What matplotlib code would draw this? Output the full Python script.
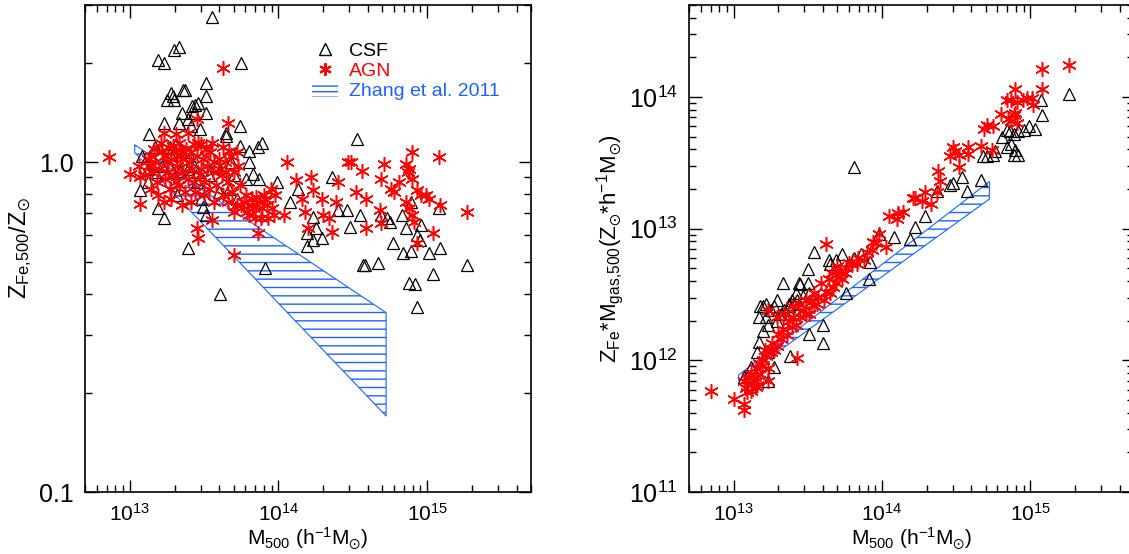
import matplotlib
matplotlib.use("Agg")
import matplotlib.pyplot as plt
import numpy as np
from matplotlib.lines import Line2D
from matplotlib.patches import Patch
from matplotlib import ticker

plt.rcParams["font.family"] = ["Liberation Sans", "DejaVu Sans"]
plt.rcParams["mathtext.fontset"] = "custom"
plt.rcParams["mathtext.rm"] = "Liberation Sans"
plt.rcParams["mathtext.it"] = "Liberation Sans:italic"
plt.rcParams["mathtext.bf"] = "Liberation Sans:bold"
plt.rcParams["mathtext.fallback"] = "stixsans"
plt.rcParams["hatch.linewidth"] = 1.0

BLUE = "#1f63ff"
RED = "#ff0000"
STAR = (6, 2, 0)  # IDL-like asterisk

# ---- left panel: Z_Fe,500 / Z_sun  (log10 M500, log10 Z) ----
csf_fe_pts = [
    (13.55, 0.44), (13.33, 0.35), (13.30, 0.34), (13.19, 0.31), (13.23, 0.30), (13.75, 0.30),
    (13.51, 0.24), (13.37, 0.22), (13.36, 0.22), (13.28, 0.21), (13.29, 0.20), (13.51, 0.20),
    (13.25, 0.19), (13.30, 0.19), (13.46, 0.18), (13.42, 0.17), (13.44, 0.175), (13.35, 0.15),
    (13.43, 0.15), (13.51, 0.15), (13.39, 0.13), (13.33, 0.12), (13.23, 0.12), (13.41, 0.11),
    (13.47, 0.10), (13.74, 0.11), (13.13, 0.085), (13.65, 0.09), (13.65, 0.08), (14.53, 0.07),
    (13.89, 0.06), (13.86, 0.045), (13.74, 0.05), (13.31, 0.055), (13.27, 0.045), (13.17, 0.045),
    (13.39, 0.03), (13.80, 0.035), (13.58, 0.005), (13.80, 0.0), (13.83, -0.035), (13.87, -0.05),
    (13.99, -0.06), (14.36, -0.045), (14.13, -0.08), (14.08, -0.12), (13.72, -0.11), (13.48, -0.11),
    (13.07, -0.085), (13.19, -0.14), (13.23, -0.17), (13.49, -0.135), (13.51, -0.16), (13.39, -0.26),
    (13.61, -0.40), (13.91, -0.32), (14.23, -0.165), (14.25, -0.20), (14.48, -0.195), (14.19, -0.215),
    (14.19, -0.255), (14.23, -0.235), (14.29, -0.23), (14.40, -0.145), (14.46, -0.145), (14.55, -0.16),
    (14.57, -0.31), (14.58, -0.31), (14.67, -0.305), (14.69, -0.16), (14.73, -0.17), (14.77, -0.245),
    (14.75, -0.18), (14.83, -0.16), (14.84, -0.275), (14.89, -0.27), (14.86, -0.20), (14.89, -0.12),
    (14.93, -0.22), (14.95, -0.235), (14.96, -0.19), (14.88, -0.365), (14.92, -0.37), (14.93, -0.44),
    (15.01, -0.275), (15.04, -0.34), (15.08, -0.14), (15.09, -0.26), (15.27, -0.31),
    (13.10, 0.0), (13.12, -0.02), (13.17, -0.03), (13.22, -0.01), (13.27, -0.015), (13.29, -0.03),
    (13.34, -0.025), (13.39, -0.02), (13.43, -0.01), (13.46, -0.03), (13.53, -0.04), (13.58, -0.01),
    (13.27, 0.025), (13.08, 0.02), (13.45, -0.06), (13.60, -0.09), (13.67, -0.08), (13.12, -0.06),
    (13.32, -0.10), (13.68, 0.0), (13.70, -0.04), (13.78, -0.05),
]
agn_fe_pts = [
    (12.86, 0.015), (13.00, -0.035), (13.07, -0.125), (13.07, -0.045), (13.06, -0.01), (13.12, 0.01),
    (13.14, 0.02), (13.17, 0.0), (13.23, 0.09), (13.31, 0.085), (13.39, 0.09), (13.45, 0.13),
    (13.63, 0.285), (13.66, 0.12), (13.55, 0.06), (13.48, 0.055), (13.63, 0.045), (13.67, 0.035),
    (13.72, 0.03), (13.43, 0.055), (13.26, 0.045), (13.34, 0.02),
    (13.15, -0.03), (13.18, -0.06), (13.20, -0.02), (13.22, 0.03), (13.24, -0.05), (13.25, 0.0),
    (13.27, -0.08), (13.28, 0.01), (13.30, -0.04), (13.31, 0.03), (13.32, -0.01), (13.33, -0.07),
    (13.35, 0.01), (13.36, -0.03), (13.38, 0.04), (13.39, -0.05), (13.40, 0.0), (13.42, -0.02),
    (13.44, -0.09), (13.45, 0.02), (13.47, -0.04), (13.49, 0.01), (13.50, -0.06), (13.52, -0.01),
    (13.54, 0.03), (13.56, -0.03), (13.58, -0.07), (13.60, 0.01), (13.62, -0.04), (13.64, 0.0),
    (13.66, -0.06), (13.68, 0.02), (13.70, -0.03), (13.73, -0.01), (13.19, -0.10), (13.23, -0.12),
    (13.28, -0.11), (13.35, -0.13), (13.41, -0.12), (13.50, -0.10), (13.57, -0.12), (13.14, -0.08),
    (13.10, -0.04),
    (13.13, -0.01), (13.16, 0.04), (13.21, 0.06), (13.24, 0.02), (13.26, -0.03), (13.29, 0.05),
    (13.31, -0.06), (13.33, 0.06), (13.36, 0.03), (13.37, -0.09), (13.41, 0.03), (13.43, -0.06),
    (13.46, 0.06), (13.48, -0.02), (13.51, 0.04), (13.53, -0.08), (13.57, 0.0), (13.61, -0.02),
    (13.65, -0.03), (13.69, -0.09), (13.74, -0.07), (13.78, -0.10), (13.83, -0.14), (13.88, -0.17),
    (13.91, -0.11), (13.72, -0.13), (13.66, -0.12), (13.63, -0.10),
    (13.45, -0.20), (13.46, -0.23), (13.55, -0.175), (13.70, -0.28), (13.70, -0.15), (13.79, -0.15),
    (13.82, -0.13), (13.85, -0.105), (13.87, -0.12), (13.89, -0.14), (13.92, -0.13), (13.93, -0.17),
    (13.96, -0.14), (13.82, -0.11), (13.77, -0.12), (13.86, -0.215), (13.75, -0.13), (13.80, -0.16),
    (13.84, -0.17), (13.90, -0.10), (13.95, -0.08), (13.98, -0.10), (13.97, -0.16),
    (14.06, 0.0), (14.12, -0.055), (14.22, -0.045), (14.23, -0.085), (14.16, -0.11), (14.18, -0.15),
    (14.20, -0.20), (14.04, -0.16), (14.29, -0.11), (14.30, -0.16), (14.34, -0.17), (14.36, -0.21),
    (14.40, -0.06), (14.39, -0.12), (14.47, 0.0), (14.49, 0.0), (14.56, -0.025), (14.52, -0.09),
    (14.59, -0.11), (14.59, -0.20), (14.68, -0.145), (14.69, -0.185), (14.71, -0.005), (14.69, -0.05),
    (14.76, -0.08), (14.78, -0.09), (14.81, -0.06), (14.86, -0.005), (14.88, -0.02), (14.87, -0.03),
    (14.90, 0.03), (14.90, -0.05), (14.93, -0.085), (14.86, -0.12), (14.88, -0.14), (14.90, -0.16),
    (14.91, -0.18), (14.93, -0.245), (14.96, -0.10), (14.99, -0.10), (15.01, -0.11), (15.04, -0.215),
    (15.08, 0.015), (15.09, -0.13), (15.27, -0.15),
]

# ---- right panel: Z_Fe * M_gas,500  (log10 M500, log10 ZM) ----
csf_zm_pts = [
    (15.26, 14.02), (15.07, 13.98), (15.08, 13.86), (15.03, 13.76), (14.99, 13.78), (14.96, 13.75),
    (14.92, 13.74), (14.89, 13.72), (14.86, 13.74), (14.84, 13.75), (14.81, 13.70), (14.84, 13.62),
    (14.87, 13.64), (14.90, 13.60), (14.92, 13.56), (14.89, 13.56), (14.75, 13.56), (14.68, 13.55),
    (14.71, 13.55), (14.76, 13.59), (14.67, 13.37), (14.54, 13.39), (14.57, 13.29), (14.46, 13.33),
    (14.48, 13.35), (14.37, 13.29), (14.29, 13.10), (14.22, 13.01), (14.19, 12.92), (14.08, 12.94),
    (13.98, 12.96), (13.81, 13.47), (13.92, 12.75), (13.91, 12.62), (13.86, 12.81), (13.81, 12.78),
    (13.73, 12.81), (13.69, 12.76), (13.64, 12.76), (13.54, 12.82), (13.50, 12.69), (13.50, 12.59),
    (13.45, 12.58), (13.51, 12.51), (13.65, 12.73), (13.76, 12.51), (13.60, 12.27), (13.60, 12.13),
    (13.51, 12.20), (13.44, 12.59), (13.42, 12.51), (13.39, 12.46), (13.37, 12.43), (13.33, 12.59),
    (13.29, 12.46), (13.27, 12.41), (13.25, 12.38), (13.22, 12.43), (13.20, 12.41), (13.17, 12.33),
    (13.18, 12.41), (13.22, 12.33), (13.23, 12.27), (13.20, 12.22), (13.17, 12.14), (13.16, 12.06),
    (13.23, 12.06), (13.27, 11.95), (13.38, 12.03), (13.12, 11.95), (13.11, 11.87), (13.07, 11.87),
    (13.11, 11.80), (13.23, 11.84), (13.29, 12.30), (13.32, 12.35), (13.34, 12.38), (13.37, 12.41),
    (13.40, 12.43), (13.43, 12.46), (13.47, 12.49),
]
agn_zm_pts = [
    (15.26, 14.24), (15.08, 14.21), (15.08, 14.06), (14.90, 14.06), (14.84, 13.98), (14.87, 13.98),
    (14.91, 13.965), (14.95, 13.98), (14.98, 13.99), (15.01, 13.99), (15.02, 13.94), (14.90, 13.88),
    (14.89, 13.86), (14.87, 13.82), (14.91, 13.80), (14.85, 13.83), (14.80, 13.87), (14.71, 13.79),
    (14.69, 13.76), (14.75, 13.78), (14.67, 13.63), (14.74, 13.60), (14.58, 13.62), (14.58, 13.57),
    (14.52, 13.56), (14.48, 13.62), (14.46, 13.55), (14.49, 13.59), (14.52, 13.47), (14.38, 13.44),
    (14.39, 13.36), (14.37, 13.28), (14.29, 13.28), (14.27, 13.21), (14.33, 13.19), (14.22, 13.23),
    (14.21, 13.23), (14.14, 13.13), (14.11, 13.12), (14.10, 13.07), (14.05, 13.10), (14.03, 12.86),
    (13.96, 12.89), (13.98, 12.96), (13.93, 12.84), (13.88, 12.76), (13.83, 12.73), (13.80, 12.73),
    (13.76, 12.70), (13.72, 12.68), (13.62, 12.88), (13.73, 12.62), (13.69, 12.59), (13.65, 12.51),
    (13.61, 12.46), (13.56, 12.43), (13.54, 12.41), (13.51, 12.35), (13.49, 12.35), (13.43, 12.02),
    (13.45, 12.33), (13.42, 12.27), (13.39, 12.25), (13.36, 12.19), (13.32, 12.16), (13.29, 12.11),
    (13.27, 12.08), (13.25, 12.06), (13.22, 12.03), (13.20, 12.00), (13.17, 11.98), (13.15, 11.94),
    (13.12, 11.90), (13.10, 11.87), (13.07, 11.84), (13.08, 11.79), (13.15, 11.84), (13.18, 11.90),
    (13.23, 11.94), (13.16, 11.81), (13.23, 11.84), (13.15, 11.80), (13.12, 11.77), (12.85, 11.77),
    (13.00, 11.71), (13.07, 11.67), (13.07, 11.62), (13.23, 12.38), (13.29, 12.33), (13.34, 12.35),
    (13.39, 12.41), (13.44, 12.43), (13.49, 12.46), (13.54, 12.51), (13.59, 12.59), (13.64, 12.62),
    (13.69, 12.65), (13.66, 12.66), (13.70, 12.72), (13.75, 12.66), (13.78, 12.74), (13.84, 12.78),
    (13.90, 12.82), (13.94, 12.90),
    (13.21, 12.08), (13.26, 12.13), (13.30, 12.20), (13.33, 12.24), (13.37, 12.30), (13.40, 12.33),
    (13.47, 12.38), (13.52, 12.44), (13.57, 12.47), (13.62, 12.52), (13.67, 12.56), (13.71, 12.63),
    (13.19, 11.96), (13.13, 11.85), (13.09, 11.76),
]

# Zhang et al. 2011 bands (end points of the fitted relations)
zhang_m = [1.08e13, 5.3e14]
zhang_fe_lo = [1.07, 0.17]
zhang_fe_hi = [1.13, 0.35]
zhang_zm_lo = [7.06e11, 1.68e13]
zhang_zm_hi = [7.74e11, 2.28e13]

W, H = 1129, 554
fig = plt.figure(figsize=(W / 100, H / 100), dpi=100)
ax1 = fig.add_axes([85 / W, 62 / H, 446 / W, 487 / H])
ax2 = fig.add_axes([689 / W, 62 / H, 445 / W, 487 / H])


def style(ax):
    ax.set_xscale("log")
    ax.set_yscale("log")
    ax.set_xlim(5e12, 5e15)
    ax.tick_params(which="both", direction="in", top=True, right=True, width=1.0)
    ax.tick_params(axis="x", labelsize=15)
    ax.tick_params(axis="y", labelsize=18)
    ax.tick_params(which="major", length=9, pad=8)
    ax.tick_params(which="minor", length=5)
    ax.xaxis.set_minor_formatter(ticker.NullFormatter())
    ax.yaxis.set_minor_formatter(ticker.NullFormatter())
    for s in ax.spines.values():
        s.set_linewidth(1.2)
    ax.set_xlabel(r"M$_{500}$ (h$^{-1}$M$_{\odot}$)", fontsize=15, labelpad=0)


def draw(ax, csf, agn, lo, hi):
    cm, cz = np.array(csf).T
    am, az = np.array(agn).T
    ax.plot(10 ** cm, 10 ** cz, ls="none", marker="^", ms=9, mfc="none", mec="black", mew=0.9)
    ax.plot(10 ** am, 10 ** az, ls="none", marker=STAR, ms=10.5, mec=RED, mew=1.1)
    ax.fill_between(zhang_m, lo, hi, facecolor="none", edgecolor=BLUE, hatch="--", linewidth=0.8)


draw(ax1, csf_fe_pts, agn_fe_pts, zhang_fe_lo, zhang_fe_hi)
style(ax1)
ax1.set_ylim(0.1, 3.0)
ax1.yaxis.set_major_locator(ticker.FixedLocator([0.1, 1.0]))
ax1.yaxis.set_major_formatter(ticker.FixedFormatter(["0.1", "1.0"]))
ax1.set_ylabel(r"Z$_{\rm Fe{,}500}$/Z$_{\odot}$", fontsize=17, labelpad=4)

draw(ax2, csf_zm_pts, agn_zm_pts, zhang_zm_lo, zhang_zm_hi)
style(ax2)
ax2.set_ylim(1e11, 5e14)
ax2.set_ylabel(r"Z$_{\rm Fe}$*M$_{\rm gas{,}500}$(Z$_{\odot}$*h$^{-1}$M$_{\odot}$)",
               fontsize=16, labelpad=2)

handles = [
    Line2D([], [], ls="none", marker="^", ms=8, mfc="none", mec="black", mew=1.0),
    Line2D([], [], ls="none", marker=STAR, ms=9, mec=RED, mew=1.5),
    Patch(facecolor="none", edgecolor=BLUE, hatch="---", linewidth=0),
]
leg = ax1.legend(handles, ["CSF", "AGN", "Zhang et al. 2011"], loc="upper left",
                 bbox_to_anchor=(0.51, 0.925), frameon=False, fontsize=14,
                 handlelength=1.3, handletextpad=0.6, labelspacing=0.1,
                 handleheight=0.8, borderpad=0, borderaxespad=0)
for txt, col in zip(leg.get_texts(), ["black", RED, BLUE]):
    txt.set_color(col)

fig.savefig("out.png", dpi=100)
